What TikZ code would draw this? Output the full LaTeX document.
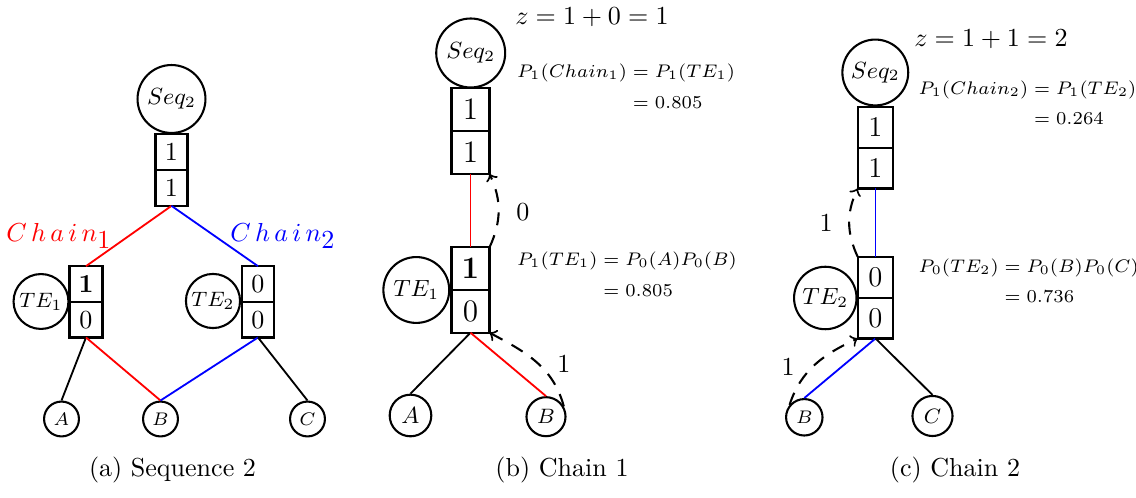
\documentclass[tikz,border=0pt]{standalone}
\usepackage{amsmath}
\usetikzlibrary{positioning}
\begin{document}
\begin{tikzpicture}[x=0.0135cm, y=-0.0135cm,
    circ/.style={draw, thick, circle, inner sep=0pt},
    cell/.style={draw, thick, inner sep=0pt, outer sep=0pt},
    edge/.style={line width=0.7pt},
    flow/.style={->, thick, dash pattern=on 5pt off 4pt},
    formula/.style={anchor=west, inner sep=0pt}]
  \useasboundingbox (0,0) rectangle (1136,498);

  % (a) Sequence 2
  \node[circ, minimum size=26.1pt] (seqA) at (171.5,99) {\small $Seq_2$};
  \node[cell, minimum width=12.3pt, minimum height=13.8pt] (sA1) at (171.5,152) {1};
  \node[cell, minimum width=12.3pt, minimum height=13.8pt, below=0pt of sA1] (sA2) {1};
  \node[cell, minimum width=12.7pt, minimum height=13.7pt] (t1A1) at (86,284) {$\mathbf{1}$};
  \node[cell, minimum width=12.7pt, minimum height=13.7pt, below=0pt of t1A1] (t1A2) {0};
  \node[circ, minimum size=21.1pt] (te1A) at (41,301.5) {\footnotesize $TE_1$};
  \node[cell, minimum width=12.3pt, minimum height=13.7pt] (t2A1) at (258,284) {0};
  \node[cell, minimum width=12.3pt, minimum height=13.7pt, below=0pt of t2A1] (t2A2) {0};
  \node[circ, minimum size=20.8pt] (te2A) at (213,301) {\footnotesize $TE_2$};
  \node[circ, minimum size=13.4pt] (aA) at (61.5,419) {\scriptsize $A$};
  \node[circ, minimum size=13.4pt] (bA) at (160.5,419) {\scriptsize $B$};
  \node[circ, minimum size=13.4pt] (cA) at (307.5,419) {\scriptsize $C$};
  \node[text=red] (chain1A) at (59,236) {$C\,h\,a\,i\,n_{\textstyle 1}$};
  \node[text=blue] (chain2A) at (283,236) {$C\,h\,a\,i\,n_{\textstyle 2}$};
  \draw[edge, red] (sA2.south) -- (t1A1.north);
  \draw[edge, blue] (sA2.south) -- (t2A1.north);
  \draw[edge] (t1A2.south) -- (aA.north);
  \draw[edge, red] (t1A2.south) -- (bA.north);
  \draw[edge, blue] (t2A2.south) -- (bA.north);
  \draw[edge] (t2A2.south) -- (cA.north);
  \node (capA) at (172.5,470) {(a) Sequence 2};

  % (b) Chain 1
  \node[circ, minimum size=26.5pt] (seqB) at (470.7,53) {\small $Seq_2$};
  \node[cell, minimum width=14.6pt, minimum height=16.5pt] (sB1) at (470.5,109.5) {\large 1};
  \node[cell, minimum width=14.6pt, minimum height=16.5pt, below=0pt of sB1] (sB2) {\large 1};
  \node[cell, minimum width=14.6pt, minimum height=16.4pt] (t1B1) at (470.5,268.7) {\large $\mathbf{1}$};
  \node[cell, minimum width=14.6pt, minimum height=16.4pt, below=0pt of t1B1] (t1B2) {\large 0};
  \node[circ, minimum size=25.3pt] (te1B) at (416.3,290) {\small $TE_1$};
  \node[circ, minimum size=16pt] (aB) at (410.5,415.5) {\small $A$};
  \node[circ, minimum size=15pt] (bB) at (546,416.7) {\footnotesize $B$};
  \draw[edge, red] (sB2.south) -- (t1B1.north);
  \draw[edge] (t1B2.south) -- (aB.north);
  \draw[edge, red] (t1B2.south) -- (bB.north);
  \draw[flow] (bB.30) to[out=105, in=-28] (t1B2.south east);
  \draw[flow] (t1B1.north east) to[out=65, in=-65] (sB2.south east);
  \node (lbl1B) at (564,364) {1};
  \node (lbl0B) at (523,212) {0};
  \node (zB) at (592,17) {$z=1+0=1$};
  \node[formula] (pchB) at (516.7,88)
    {\fontsize{7.5}{9}\selectfont $\begin{aligned} P_1(Chain_1) &= P_1(TE_1)\\ &= 0.805\end{aligned}$};
  \node[formula] (pteB) at (516.7,276)
    {\fontsize{7.5}{9}\selectfont $\begin{aligned} P_1(TE_1) &= P_0(A)P_0(B)\\ &= 0.805\end{aligned}$};
  \node (capB) at (562,470) {(b) Chain 1};

  % (c) Chain 2
  \node[circ, minimum size=25.3pt] (seqC) at (875.3,72.5) {\small $Seq_2$};
  \node[cell, minimum width=13.7pt, minimum height=15.7pt] (sC1) at (875.5,127.2) {\fontsize{11}{13}\selectfont 1};
  \node[cell, minimum width=13.7pt, minimum height=15.7pt, below=0pt of sC1] (sC2) {\fontsize{11}{13}\selectfont 1};
  \node[cell, minimum width=13.7pt, minimum height=15.7pt] (t2C1) at (875.5,277.2) {\fontsize{11}{13}\selectfont 0};
  \node[cell, minimum width=13.7pt, minimum height=15.7pt, below=0pt of t2C1] (t2C2) {\fontsize{11}{13}\selectfont 0};
  \node[circ, minimum size=24pt] (te2C) at (825.3,298) {\small $TE_2$};
  \node[circ, minimum size=14pt] (bC) at (804.3,417.3) {\scriptsize $B$};
  \node[circ, minimum size=15.4pt] (cC) at (932.5,416) {\footnotesize $C$};
  \draw[edge, blue] (sC2.south) -- (t2C1.north);
  \draw[edge, blue] (t2C2.south) -- (bC.north);
  \draw[edge] (t2C2.south) -- (cC.north);
  \draw[flow] (t2C1.north west) to[out=115, in=-115] (sC2.south west);
  \draw[flow] (bC.140) to[out=72, in=205] (t2C2.south west);
  \node (lbl1C) at (826,223) {1};
  \node (lbl2C) at (788,367) {1};
  \node (zC) at (991,39) {$z=1+1=2$};
  \node[formula] (pchC) at (918,105)
    {\fontsize{7}{8.8}\selectfont $\begin{aligned} P_1(Chain_2) &= P_1(TE_2)\\ &= 0.264\end{aligned}$};
  \node[formula] (pteC) at (918,283)
    {\fontsize{7}{8.8}\selectfont $\begin{aligned} P_0(TE_2) &= P_0(B)P_0(C)\\ &= 0.736\end{aligned}$};
  \node (capC) at (955,470) {(c) Chain 2};
\end{tikzpicture}
\end{document}
